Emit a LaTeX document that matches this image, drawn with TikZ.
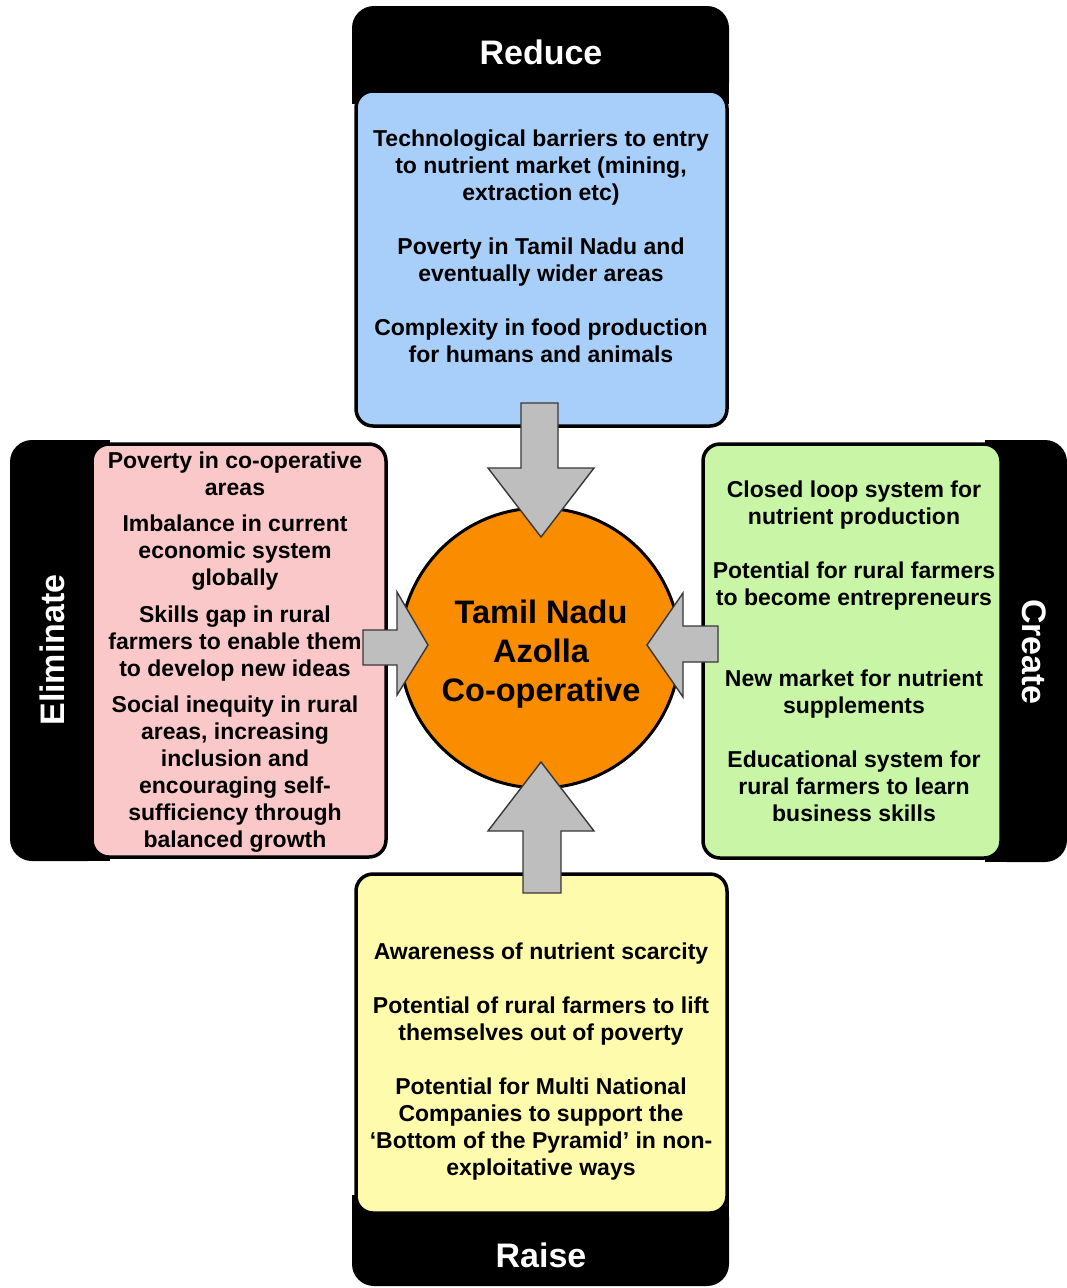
\documentclass[tikz,border=0pt]{standalone}
\usepackage{fontspec}
\setmainfont{Liberation Sans}
\definecolor{blueC}{RGB}{168,206,250}
\definecolor{pinkC}{RGB}{250,200,200}
\definecolor{greenC}{RGB}{200,246,166}
\definecolor{yellowC}{RGB}{255,251,172}
\definecolor{orangeC}{RGB}{250,140,0}
\definecolor{arrowC}{RGB}{190,190,190}
\definecolor{arrowE}{RGB}{55,55,55}
\begin{document}
\begin{tikzpicture}[x=1pt,y=-1pt,
  hdr/.style={fill=black, rounded corners=22pt},
  hdrsq/.style={fill=black},
  panel/.style={draw=black, line width=3.5pt, rounded corners=17pt},
  body/.style={font=\bfseries\fontsize{23}{27}\selectfont, align=center, inner sep=0pt, text=black},
  headtxt/.style={font=\bfseries\fontsize{34}{40}\selectfont, text=white, inner sep=0pt},
  hubtxt/.style={font=\bfseries\fontsize{32.5}{39}\selectfont, align=center, inner sep=0pt},
  garrow/.style={fill=arrowC, draw=arrowE, line width=1.4pt, line join=miter}]
\useasboundingbox (0,0) rectangle (1067,1288);
\fill[white] (0,0) rectangle (1067,1288);

% black header bars (rounded outer corners, square inner side)
\fill[hdr] (352,6) rectangle (729,104);
\fill[hdrsq] (352,60) rectangle (729,104);
\fill[hdr] (10,440) rectangle (110,861);
\fill[hdrsq] (60,440) rectangle (110,861);
\fill[hdr] (985,440) rectangle (1067,862);
\fill[hdrsq] (985,440) rectangle (1030,862);
\fill[hdr] (352,1195) rectangle (729,1286);
\fill[hdrsq] (352,1195) rectangle (729,1240);

% coloured panels
\draw[panel, fill=blueC]   (356,91)  rectangle (727,426);
\draw[panel, fill=pinkC]   (92,444)  rectangle (386,857);
\draw[panel, fill=greenC]  (703,444) rectangle (1001,858);
\draw[panel, fill=yellowC] (356,874) rectangle (727,1213);

% hub
\node[circle, draw=black, fill=orangeC, line width=3pt, minimum size=280pt, inner sep=0pt] (hub) at (540,648) {};

% block arrows
\coordinate (tTip) at (541,537);
\coordinate (bTip) at (541,762);
\coordinate (lTip) at (428,645);
\coordinate (rTip) at (647,645);
\draw[garrow] (tTip) -- (594,468) -- (558,468) -- (558,403) -- (521,403) -- (521,468) -- (488,468) -- cycle;
\draw[garrow] (bTip) -- (594,831) -- (561,831) -- (561,893) -- (523,893) -- (523,831) -- (488,831) -- cycle;
\draw[garrow] (lTip) -- (397,695) -- (397,665) -- (363,665) -- (363,630) -- (397,630) -- (397,592) -- cycle;
\draw[garrow] (rTip) -- (683,697) -- (683,662) -- (718,662) -- (718,626) -- (683,626) -- (683,593) -- cycle;

% header labels
\node[headtxt] (lReduce) at (541,52) {Reduce};
\node[headtxt] (lRaise) at (541,1255) {Raise};
\node[headtxt, rotate=90] (lElim) at (52,650) {Eliminate};
\node[headtxt, rotate=-90] (lCreate) at (1034,652) {Create};

% hub text
\node[hubtxt] (hubText) at (541,654) {Tamil Nadu\\Azolla\\Co-operative};

% panel texts
\node[body] (tReduce) at (541,246) {Technological barriers to entry\\
to nutrient market (mining,\\
extraction etc)\\[27pt]
Poverty in Tamil Nadu and\\
eventually wider areas\\[27pt]
Complexity in food production\\
for humans and animals};

\node[body] (tElim) at (235,652) {Poverty in co-operative\\areas\\[9pt]
Imbalance in current\\economic system\\globally\\[10pt]
Skills gap in rural\\farmers to enable them\\to develop new ideas\\[9pt]
Social inequity in rural\\areas, increasing\\inclusion and\\encouraging self-\\sufficiency through\\balanced growth};

\node[body] (tCreate) at (854,651) {Closed loop system for\\nutrient production\\[27pt]
Potential for rural farmers\\to become entrepreneurs\\[54pt]
New market for nutrient\\supplements\\[27pt]
Educational system for\\rural farmers to learn\\business skills};

\node[body] (tRaise) at (541,1062) {Awareness of nutrient scarcity\\[27pt]
Potential of rural farmers to lift\\themselves out of poverty\\[27pt]
Potential for Multi National\\Companies to support the\\‘Bottom of the Pyramid’ in non-\\exploitative ways};
\end{tikzpicture}
\end{document}
